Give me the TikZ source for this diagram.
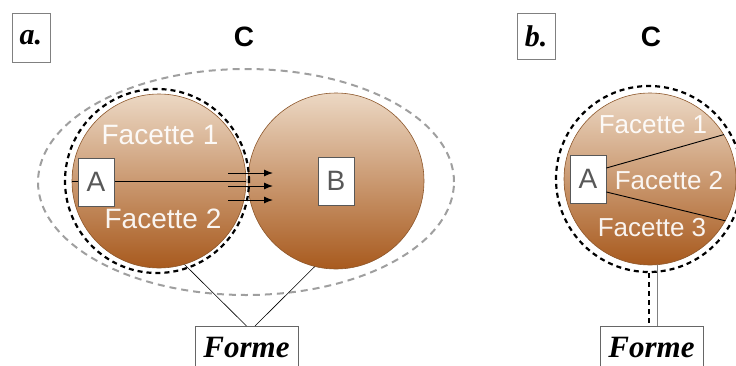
\documentclass[tikz,border=0pt]{standalone}
\usepackage{fontspec}
\setmainfont{Liberation Sans}
\newfontfamily\serifbf{Liberation Serif}
\usepackage{tikz}
\usetikzlibrary{shapes.geometric}
\usetikzlibrary{arrows.meta}
\usepackage{xcolor}
\definecolor{sand}{RGB}{236,216,196}
\definecolor{clay}{RGB}{168,90,30}
\definecolor{rim}{RGB}{140,86,42}
\definecolor{ink}{RGB}{88,88,88}

\begin{document}
\begin{tikzpicture}[x=1pt,y=-1pt,>={Latex[length=9pt,width=7pt]},
		facet circle/.style={circle,draw=rim,line width=0.6pt,inner sep=0pt,top color=sand,bottom color=clay},
		black dash/.style={draw=black,line width=2.2pt,dash pattern=on 5pt off 4pt},
		ring/.style={circle,black dash,inner sep=0pt},
		halo/.style={ellipse,draw=gray!75,line width=2pt,dash pattern=on 7pt off 5pt,inner sep=0pt},
		letter box/.style={rectangle,draw=ink,fill=white,line width=0.8pt,text=ink,minimum width=36pt,minimum height=48pt,inner sep=0pt,font=\fontsize{28}{28}\selectfont},
		tag box/.style={rectangle,draw=gray,fill=white,line width=0.8pt,minimum width=38pt,inner sep=0pt,font=\serifbf\bfseries\itshape\fontsize{30}{30}\selectfont},
		panel title/.style={inner sep=0pt,font=\fontsize{28}{28}\selectfont\bfseries},
		facet/.style={text=white,text opacity=0.92,inner sep=0pt},
		forme box/.style={rectangle,draw=gray!80!black,fill=white,line width=0.8pt,minimum width=103pt,anchor=north,inner xsep=0pt,inner ysep=11pt,text height=20pt,text depth=14pt,font=\serifbf\bfseries\itshape\fontsize{31}{31}\selectfont}]
			\useasboundingbox (0,0) rectangle (736,365);
			\clip (0,0) rectangle (736,365);
			% Panel a
			  \node[halo,minimum width=416pt,minimum height=226pt] (haloA) at (246,182) {};
			  \node[facet circle,minimum size=174pt] (circA) at (159,181) {};
			  \node[facet circle,minimum size=176pt,right of=circA,node distance=177pt] (circB) {};
			  \node[ring,minimum size=184pt] (ringA) at (157,181) {};
			  \draw[line width=0.9pt] (circA.west) -- (circA.east);
			  \foreach \y [count=\i] in {173,186,200} {
			    \coordinate (from\i) at (228,\y);
			    \coordinate (to\i) at (273,\y);
			    \draw[->,line width=1pt] (from\i) -- (to\i);
			  }
			  \node[letter box] (boxA) at (96,182) {A};
			  \node[letter box] (boxB) at (circB) {B};
			  \node[facet,font=\fontsize{28}{28}\selectfont] (facA1) at (160,135) {Facette 1};
			  \node[facet,font=\fontsize{28}{28}\selectfont] (facA2) at (163,219) {Facette 2};
			  \node[panel title] (titleA) at (244,37) {C};
			  \node[tag box,minimum height=49pt] (tagA) at (31,37.5) {a.};
			  \node[forme box] (formeA) at (246.5,326) {Forme};
			  \draw[line width=0.6pt] (circA.-73) -- (formeA.north);
			  \draw[line width=0.6pt] (circB.-104) -- ([xshift=8.5pt]formeA.north);

			% Panel b
			  \node[facet circle,minimum size=172pt] (circC) at (650,179) {};
			  \node[ring,minimum size=186pt] (ringC) at (649,179) {};
			  \node[letter box] (boxC) at (588,179) {A};
			  \draw[line width=0.9pt] ([yshift=11pt]boxC.east) -- (circC.31);
			  \draw[line width=0.9pt] ([yshift=-13pt]boxC.east) -- (circC.-29);
			  \node[facet,font=\fontsize{26}{26}\selectfont] (facC1) at (653,125) {Facette 1};
			  \node[facet,font=\fontsize{26}{26}\selectfont] (facC2) at (669,181) {Facette 2};
			  \node[facet,font=\fontsize{26}{26}\selectfont] (facC3) at (652,228) {Facette 3};
			  \node[panel title] (titleC) at (651,37) {C};
			  \node[tag box,minimum height=46pt] (tagB) at (536,36) {b.};
			  \node[forme box] (formeB) at (651.5,326) {Forme};
			  \draw[black dash] (ringC.south) -- (ringC.south |- formeB.north);
			  \draw[gray,line width=0.8pt] ([xshift=6pt]formeB.north) -- ([xshift=6pt]formeB.north |- circC.south);
\end{tikzpicture}
\end{document}
